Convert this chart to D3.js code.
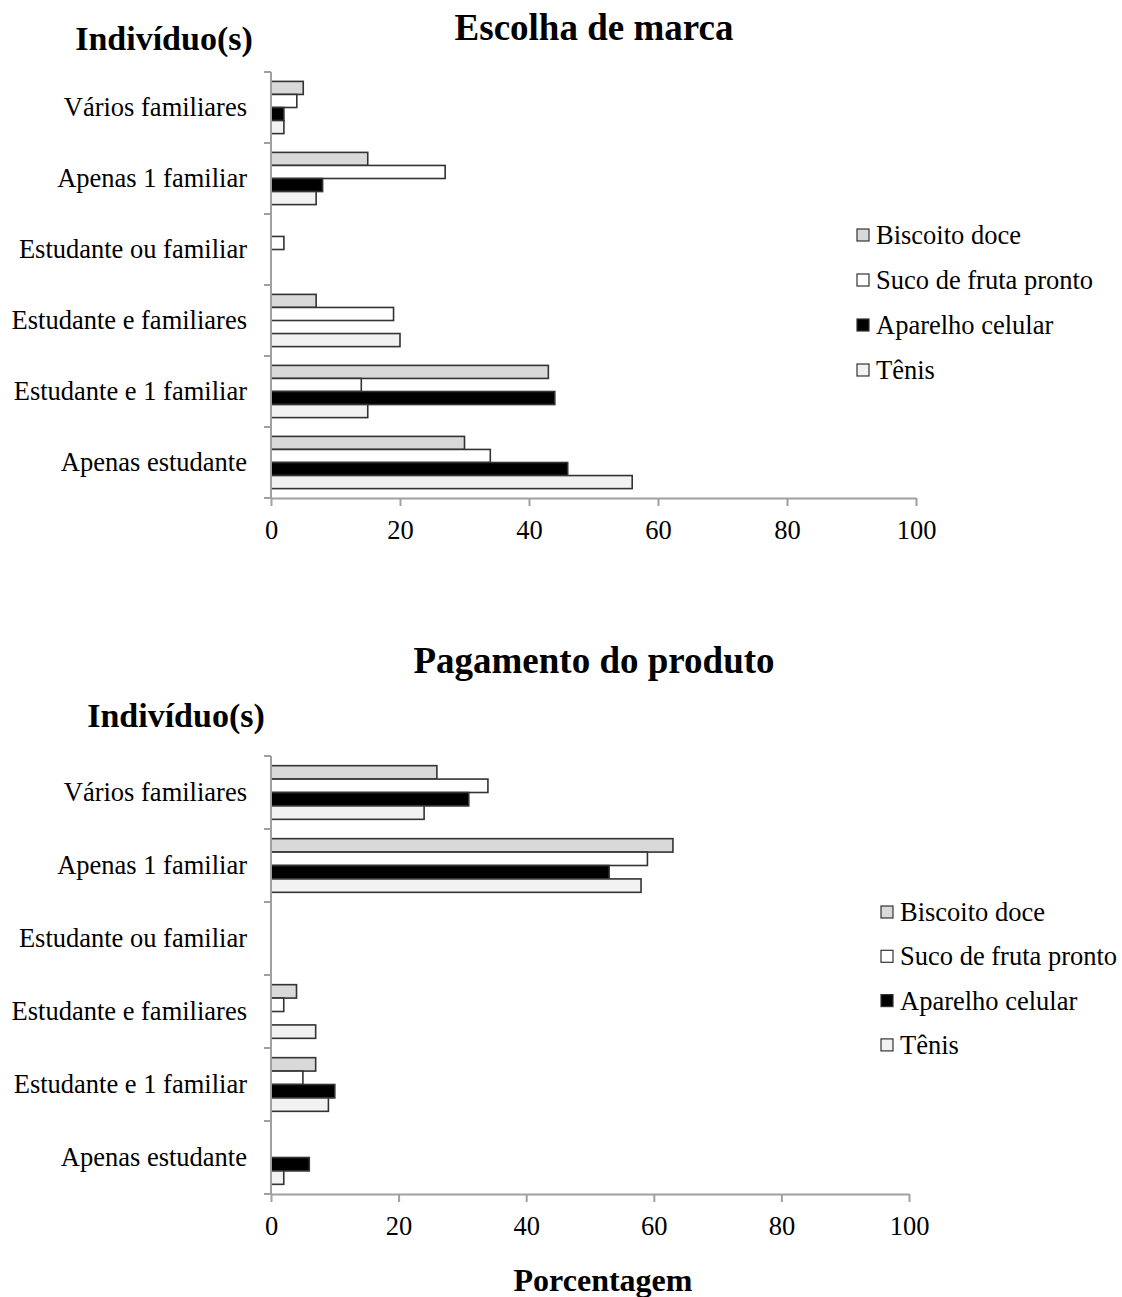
<!DOCTYPE html>
<html>
<head>
<meta charset="utf-8">
<script src="https://cdn.jsdelivr.net/npm/d3@7"></script>
<style>
	body { margin: 0; background: #fff; }
	text { font-family: "Liberation Serif", "Times New Roman", serif; fill: #000; }
</style>
</head>
<body>
<div id="chart"></div>
<script>

// categories (top to bottom) and series
const categories = ["Vários familiares", "Apenas 1 familiar", "Estudante ou familiar",
	"Estudante e familiares", "Estudante e 1 familiar", "Apenas estudante"];
const seriesNames = ["Biscoito doce", "Suco de fruta pronto", "Aparelho celular", "Tênis"];
const seriesColors = ["#d9d9d9", "#ffffff", "#000000", "#f2f2f2"];
const xTicks = [0, 20, 40, 60, 80, 100];

// Escolha de marca (%)
const escolhaBiscoito = [5, 15, 0, 7, 43, 30];
const escolhaSuco = [4, 27, 2, 19, 14, 34];
const escolhaCelular = [2, 8, 0, 0, 44, 46];
const escolhaTenis = [2, 7, 0, 20, 15, 56];

// Pagamento do produto (%)
const pagamentoBiscoito = [26, 63, 0, 4, 7, 0];
const pagamentoSuco = [34, 59, 0, 2, 5, 0];
const pagamentoCelular = [31, 53, 0, 0, 10, 6];
const pagamentoTenis = [24, 58, 0, 7, 9, 2];


class BarPanel {

	constructor(svg, values, opts){
		this._svg = svg;
		this._values = values;
		this._opts = opts;
	}

	initVis() {
		let vis = this;
		const o = vis._opts;

		vis.g = vis._svg.append("g");

		vis.x = d3.scaleLinear()
			.domain([0, 100])
			.range([o.left, o.right]);

		vis.y = d3.scaleBand()
			.domain(categories)
			.range([o.top, o.bottom]);

		vis.ySub = d3.scaleBand()
			.domain(seriesNames)
			.range([0, vis.y.bandwidth()])
			.paddingOuter(0.72);

		// flatten to one record per bar
		vis.displayData = [];
		categories.forEach((c, i) => {
			seriesNames.forEach((s, j) => {
				vis.displayData.push({cat: c, series: s, color: seriesColors[j], value: vis._values[j][i]});
			});
		});

		// titles
		vis.g.append("text")
			.attr("x", o.titleX)
			.attr("y", o.titleY)
			.attr("text-anchor", "middle")
			.style("font-size", "37px")
			.style("font-weight", "bold")
			.text(o.title);

		vis.g.append("text")
			.attr("x", o.yTitleX)
			.attr("y", o.yTitleY)
			.attr("text-anchor", "middle")
			.style("font-size", "34px")
			.style("font-weight", "bold")
			.text("Indivíduo(s)");

		// bars
		vis.g.selectAll("rect.bar")
			.data(vis.displayData.filter(d => d.value > 0))
			.enter()
			.append("rect")
			.attr("class", "bar")
			.attr("x", vis.x(0))
			.attr("y", d => vis.y(d.cat) + vis.ySub(d.series))
			.attr("width", d => vis.x(d.value) - vis.x(0))
			.attr("height", vis.ySub.bandwidth())
			.attr("fill", d => d.color)
			.attr("stroke", "#333")
			.attr("stroke-width", 1.6);

		// y axis: line plus ticks at the category boundaries
		const bounds = categories.map(c => vis.y(c)).concat([o.bottom]);
		vis.g.append("line")
			.attr("x1", vis.x(0)).attr("x2", vis.x(0))
			.attr("y1", o.top).attr("y2", o.bottom)
			.attr("stroke", "#a0a0a0").attr("stroke-width", 2);
		vis.g.selectAll("line.ytick")
			.data(bounds)
			.enter()
			.append("line")
			.attr("class", "ytick")
			.attr("x1", vis.x(0) - 7).attr("x2", vis.x(0))
			.attr("y1", d => d).attr("y2", d => d)
			.attr("stroke", "#a0a0a0").attr("stroke-width", 2);

		vis.g.selectAll("text.cat")
			.data(categories)
			.enter()
			.append("text")
			.attr("class", "cat")
			.attr("x", vis.x(0) - 24)
			.attr("y", d => vis.y(d) + vis.y.bandwidth() / 2 + 8)
			.attr("text-anchor", "end")
			.style("font-size", "26.5px")
			.text(d => d);

		// x axis
		const xAxis = d3.axisBottom(vis.x)
			.tickValues(xTicks)
			.tickSize(8)
			.tickSizeOuter(0)
			.tickPadding(14);

		vis.xAxisG = vis.g.append("g")
			.attr("transform", "translate(0," + o.bottom + ")")
			.call(xAxis);
		vis.xAxisG.select(".domain").attr("stroke", "#a0a0a0").attr("stroke-width", 2);
		vis.xAxisG.selectAll(".tick line").attr("stroke", "#a0a0a0").attr("stroke-width", 2);
		vis.xAxisG.selectAll(".tick text")
			.style("font-size", "26.5px")
			.style("font-family", "'Liberation Serif', serif");

		// legend
		vis.legend = vis.g.selectAll("g.legend")
			.data(seriesNames)
			.enter()
			.append("g")
			.attr("class", "legend")
			.attr("transform", (d, i) => "translate(" + o.legendX + "," + (o.legendY + i * o.legendStep) + ")");

		vis.legend.append("rect")
			.attr("x", 0).attr("y", -6)
			.attr("width", 12).attr("height", 12)
			.attr("fill", (d, i) => seriesColors[i])
			.attr("stroke", "#333")
			.attr("stroke-width", 1.2);

		vis.legend.append("text")
			.attr("x", 19)
			.attr("y", 9)
			.style("font-size", "26.5px")
			.text(d => d);
	}
}

const svg = d3.select("#chart").append("svg")
	.attr("width", 1122)
	.attr("height", 1297)
	.style("background", "#fff");

const topPanel = new BarPanel(svg,
	[escolhaBiscoito, escolhaSuco, escolhaCelular, escolhaTenis],
	{left: 271, right: 916, top: 72, bottom: 498,
	 title: "Escolha de marca", titleX: 594, titleY: 40,
	 yTitleX: 164, yTitleY: 50,
	 legendX: 857, legendY: 235, legendStep: 45});
topPanel.initVis();

const bottomPanel = new BarPanel(svg,
	[pagamentoBiscoito, pagamentoSuco, pagamentoCelular, pagamentoTenis],
	{left: 271, right: 909, top: 756, bottom: 1194,
	 title: "Pagamento do produto", titleX: 594, titleY: 673,
	 yTitleX: 176, yTitleY: 727,
	 legendX: 881, legendY: 912, legendStep: 44.3});
bottomPanel.initVis();

svg.append("text")
	.attr("x", 603)
	.attr("y", 1291)
	.attr("text-anchor", "middle")
	.style("font-size", "32px")
	.style("font-weight", "bold")
	.text("Porcentagem");

</script>
</body>
</html>
